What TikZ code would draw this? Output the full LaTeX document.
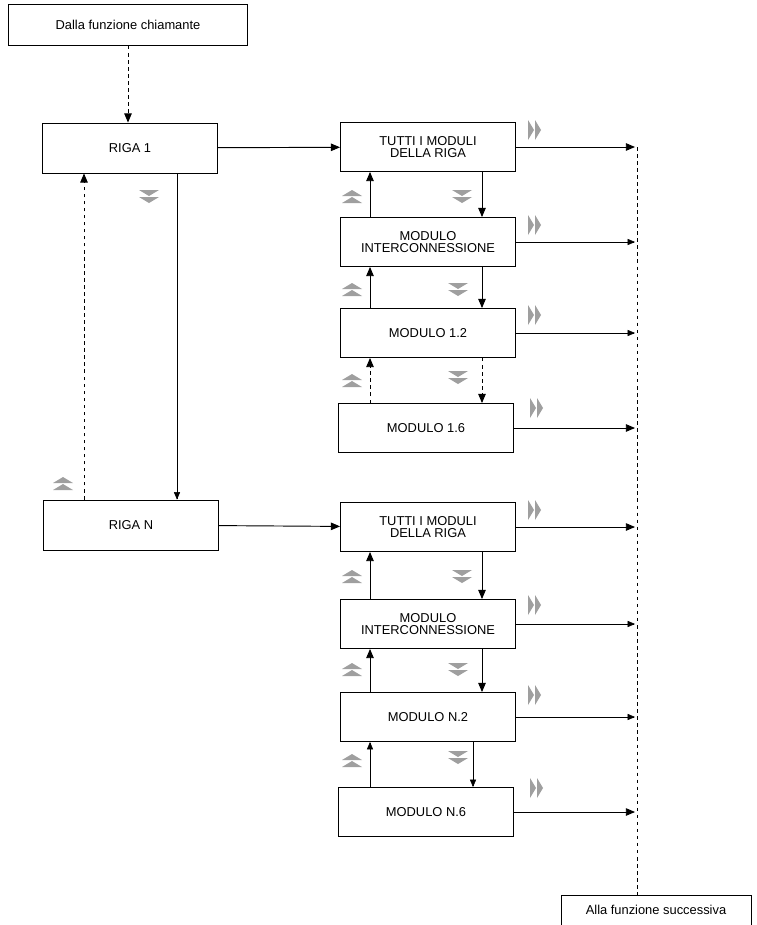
\documentclass[tikz,border=0pt]{standalone}
\usepackage{fontspec}
\setmainfont{Liberation Sans}
\usetikzlibrary{arrows,positioning}
\tikzstyle{box}=[draw=black, thick, rectangle, align=center, font=\fontsize{11}{10}\selectfont, inner sep=1pt]
\tikzstyle{riga}=[box, minimum width=175*0.03cm, minimum height=50*0.03cm]
\tikzstyle{modulo}=[box, minimum width=175*0.03cm, minimum height=49*0.03cm]
\tikzstyle{my arrow}=[->, >=triangle 45, thick]
\tikzstyle{thin arrow}=[->, >=triangle 45]
\tikzstyle{back arrow}=[my arrow, dashed]
% gray double chevrons
\newcommand{\chev}[3]{\fill[gray!75, shift={(#1,#2)}, rotate=#3]
  (-10,-7)--(10,-7)--(0,-1)--cycle (-10,0)--(10,0)--(0,6)--cycle;}

\begin{document}
\begin{tikzpicture}[x=0.03cm, y=-0.03cm]
\useasboundingbox (0,0) rectangle (756,925);
\node[box, minimum width=239*0.03cm, minimum height=41*0.03cm] (caller) at (128,25) {Dalla funzione chiamante};
\node[riga] (riga1) at (130,148) {RIGA 1};
\node[riga] (rigaN) at (131,525) {RIGA N};

\node[modulo] (tutti1) at (428,147) {TUTTI I MODULI\\DELLA RIGA};
\node[modulo] (inter1) at (428,242) {MODULO\\INTERCONNESSIONE};
\node[modulo] (mod12) at (428,333) {MODULO 1.2};
\node[modulo] (mod16) at (426,428) {MODULO 1.6};
\node[modulo] (tuttiN) at (428,527) {TUTTI I MODULI\\DELLA RIGA};
\node[modulo] (interN) at (428,624) {MODULO\\INTERCONNESSIONE};
\node[modulo] (modN2) at (428,717) {MODULO N.2};
\node[modulo] (modN6) at (426,812) {MODULO N.6};

\node[box, minimum width=190*0.03cm, minimum height=30*0.03cm] (callee) at (656,910) {Alla funzione successiva};
\coordinate (bus top) at (637,147);
\draw[thick, dashed] (bus top) -- (callee.north -| bus top);

% left side
\draw[back arrow] (caller) -- (riga1.north -| caller);
\draw[back arrow] (rigaN.north -| 84,0) -- (riga1.south -| 84,0);
\draw[thin arrow] (riga1.south -| 177,0) -- (rigaN.north -| 177,0);
\draw[my arrow] (riga1) -- (tutti1);
\draw[my arrow] (rigaN) -- (tuttiN);

% columns
\foreach \up/\lo/\st in {tutti1/inter1/my arrow, inter1/mod12/my arrow, mod12/mod16/back arrow,
                         tuttiN/interN/my arrow, interN/modN2/my arrow, modN2/modN6/thin arrow}{
  \draw[\st] (\lo.north -| 370,0) -- (\up.south -| 370,0);
}
\foreach \up/\lo/\st/\x in {tutti1/inter1/my arrow/482, inter1/mod12/my arrow/482, mod12/mod16/back arrow/482,
                         tuttiN/interN/my arrow/482, interN/modN2/my arrow/482, modN2/modN6/thin arrow/473}{
  \draw[\st] (\up.south -| \x,0) -- (\lo.north -| \x,0);
}

% outputs to the bus
\foreach \m/\st in {tutti1/my arrow, inter1/thin arrow, mod12/thin arrow, mod16/my arrow,
                    tuttiN/my arrow, interN/thin arrow, modN2/thin arrow, modN6/my arrow}{
  \draw[\st] (\m) -- (\m -| 635,0);
}

% chevrons
\chev{149}{197}{0}
\chev{63}{483}{180}
\foreach \y in {147,527}{
  \chev{352}{\y+49}{180} \chev{462}{\y+50}{0}
  \chev{352}{\y+142}{180} \chev{458}{\y+143}{0}
  \chev{352}{\y+233}{180} \chev{458}{\y+231}{0}
  \chev{535}{\y-17}{90} \chev{535}{\y+78}{90}
  \chev{535}{\y+168}{90} \chev{537}{\y+261}{90}
}
\end{tikzpicture}
\end{document}
